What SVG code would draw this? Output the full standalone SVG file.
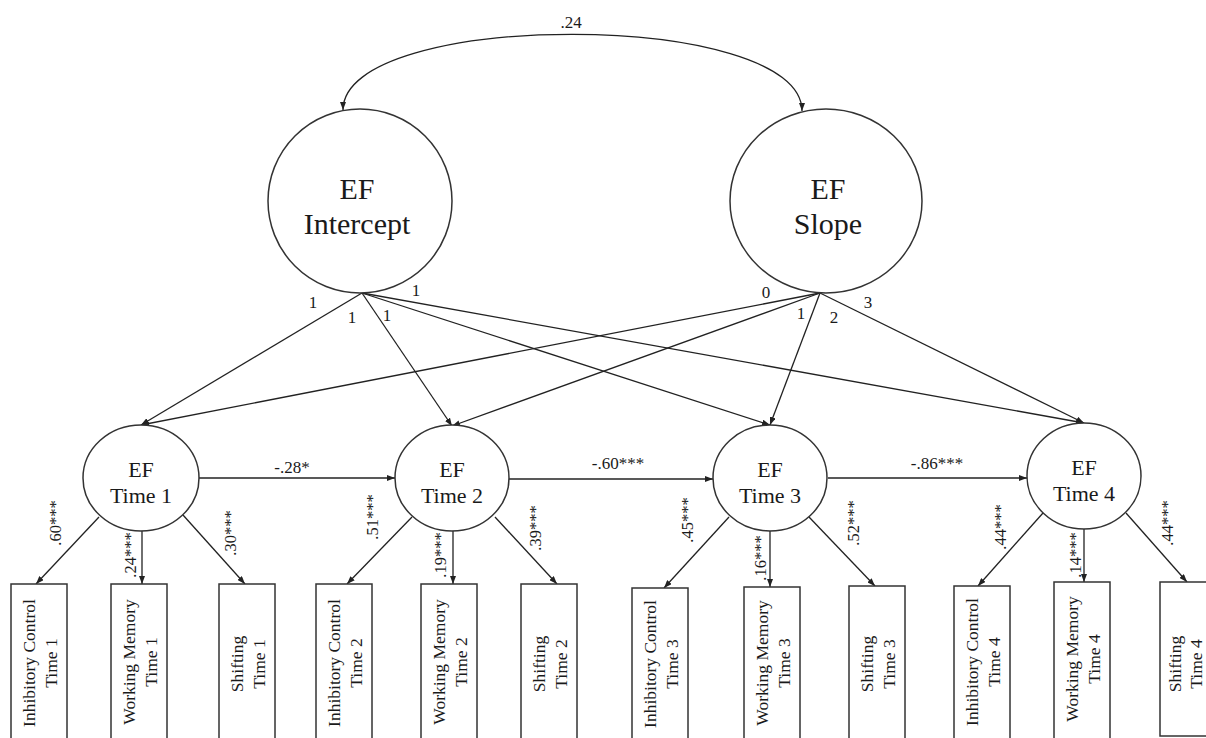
<svg xmlns="http://www.w3.org/2000/svg" width="1206" height="738" viewBox="0 0 1206 738">
<style>
.bg{fill:#fff}
.lat{fill:#fff;stroke:#333;stroke-width:1.5}
.box{fill:#fff;stroke:#333;stroke-width:1.5}
.c{fill:none;stroke:#222;stroke-width:1.3;marker-end:url(#ah)}
.t{font-family:"Liberation Serif","Times New Roman",serif;fill:#1a1a1a;text-anchor:middle}
.big{font-size:30px}
.mid{font-size:22px}
.lab{font-size:17px;dominant-baseline:central}
.ld{font-size:16.5px;dominant-baseline:central}
.bx{font-size:17.5px}
</style>
<defs>
<marker id="ah" markerUnits="userSpaceOnUse" markerWidth="8" markerHeight="6" refX="8" refY="3" orient="auto-start-reverse">
<path d="M0,0 L8,3 L0,6 z" fill="#222"/>
</marker>
</defs>
<rect class="bg" width="1206" height="738"/>

<g id="connectors">
<path class="c" d="M343,110 C343,9 802,9 802,111" style="marker-start:url(#ah)"/>
<line class="c" x1="362" y1="293" x2="141" y2="425"/>
<line class="c" x1="362" y1="293" x2="452" y2="426"/>
<line class="c" x1="362" y1="293" x2="770" y2="425"/>
<line class="c" x1="362" y1="293" x2="1084" y2="423"/>
<line class="c" x1="820" y1="293" x2="141" y2="425"/>
<line class="c" x1="820" y1="293" x2="452" y2="426"/>
<line class="c" x1="820" y1="293" x2="770" y2="425"/>
<line class="c" x1="820" y1="293" x2="1084" y2="423"/>
<line class="c" x1="199" y1="478" x2="395" y2="478"/>
<line class="c" x1="509" y1="479" x2="713" y2="479"/>
<line class="c" x1="828" y1="478" x2="1027" y2="478"/>
<line class="c" x1="99" y1="517" x2="36" y2="584"/>
<line class="c" x1="142" y1="531" x2="142" y2="584"/>
<line class="c" x1="183" y1="515" x2="245" y2="584"/>
<line class="c" x1="412" y1="517" x2="347" y2="584"/>
<line class="c" x1="453" y1="531" x2="453" y2="584"/>
<line class="c" x1="495" y1="517" x2="557" y2="584"/>
<line class="c" x1="729" y1="517" x2="664" y2="588"/>
<line class="c" x1="770" y1="531" x2="770" y2="587"/>
<line class="c" x1="809" y1="517" x2="875" y2="586"/>
<line class="c" x1="1043" y1="513" x2="978" y2="586"/>
<line class="c" x1="1084" y1="529" x2="1084" y2="582"/>
<line class="c" x1="1126" y1="513" x2="1187" y2="582"/>
<text class="t lab" x="571" y="22">.24</text>
<text class="t lab" x="313" y="302">1</text>
<text class="t lab" x="352" y="317">1</text>
<text class="t lab" x="387" y="315">1</text>
<text class="t lab" x="416" y="290">1</text>
<text class="t lab" x="766" y="292">0</text>
<text class="t lab" x="801" y="313">1</text>
<text class="t lab" x="834" y="317">2</text>
<text class="t lab" x="868" y="302">3</text>
<text class="t lab" x="292" y="467">-.28*</text>
<text class="t lab" x="618" y="463">-.60***</text>
<text class="t lab" x="937" y="463">-.86***</text>
<text class="t ld" transform="translate(55,523) rotate(-90)">.60***</text>
<text class="t ld" transform="translate(130,555) rotate(-90)">.24***</text>
<text class="t ld" transform="translate(230,533) rotate(-90)">.30***</text>
<text class="t ld" transform="translate(372,517) rotate(-90)">.51***</text>
<text class="t ld" transform="translate(440,555) rotate(-90)">.19***</text>
<text class="t ld" transform="translate(535,528) rotate(-90)">.39***</text>
<text class="t ld" transform="translate(687,520) rotate(-90)">.45***</text>
<text class="t ld" transform="translate(760,558) rotate(-90)">.16***</text>
<text class="t ld" transform="translate(853,523) rotate(-90)">.52***</text>
<text class="t ld" transform="translate(1000,527) rotate(-90)">.44***</text>
<text class="t ld" transform="translate(1075,555) rotate(-90)">.14***</text>
<text class="t ld" transform="translate(1167,523) rotate(-90)">.44***</text>
</g>

<g id="intercept">
<circle class="lat" cx="360" cy="201" r="92"/>
<text class="t big" x="357" y="199">EF</text>
<text class="t big" x="357" y="234">Intercept</text>
</g>
<g id="slope">
<ellipse class="lat" cx="826" cy="201" rx="96" ry="92"/>
<text class="t big" x="828" y="199">EF</text>
<text class="t big" x="828" y="234">Slope</text>
</g>

<g id="time1">
<ellipse class="lat" cx="141" cy="478" rx="58" ry="53"/>
<text class="t mid" x="141" y="477">EF</text>
<text class="t mid" x="141" y="503">Time 1</text>
</g>
<g id="time2">
<ellipse class="lat" cx="452" cy="478" rx="57" ry="53"/>
<text class="t mid" x="452" y="477">EF</text>
<text class="t mid" x="452" y="503">Time 2</text>
</g>
<g id="time3">
<ellipse class="lat" cx="770" cy="478" rx="57" ry="53"/>
<text class="t mid" x="770" y="477">EF</text>
<text class="t mid" x="770" y="503">Time 3</text>
</g>
<g id="time4">
<ellipse class="lat" cx="1084" cy="476" rx="57" ry="53"/>
<text class="t mid" x="1084" y="475">EF</text>
<text class="t mid" x="1084" y="501">Time 4</text>
</g>

<g id="ic1"><rect class="box" x="11" y="584" width="56" height="170"/>
<text class="t bx" transform="translate(39,663) rotate(-90)"><tspan x="0" y="-4">Inhibitory Control</tspan><tspan x="0" y="18">Time 1</tspan></text></g>
<g id="wm1"><rect class="box" x="111" y="584" width="56" height="170"/>
<text class="t bx" transform="translate(139,662) rotate(-90)"><tspan x="0" y="-4">Working Memory</tspan><tspan x="0" y="18">Time 1</tspan></text></g>
<g id="sh1"><rect class="box" x="219" y="584" width="56" height="170"/>
<text class="t bx" transform="translate(247,664) rotate(-90)"><tspan x="0" y="-4">Shifting</tspan><tspan x="0" y="18">Time 1</tspan></text></g>
<g id="ic2"><rect class="box" x="316" y="584" width="56" height="170"/>
<text class="t bx" transform="translate(344,663) rotate(-90)"><tspan x="0" y="-4">Inhibitory Control</tspan><tspan x="0" y="18">Time 2</tspan></text></g>
<g id="wm2"><rect class="box" x="421" y="584" width="56" height="170"/>
<text class="t bx" transform="translate(449,662) rotate(-90)"><tspan x="0" y="-4">Working Memory</tspan><tspan x="0" y="18">Time 2</tspan></text></g>
<g id="sh2"><rect class="box" x="521" y="584" width="56" height="170"/>
<text class="t bx" transform="translate(549,664) rotate(-90)"><tspan x="0" y="-4">Shifting</tspan><tspan x="0" y="18">Time 2</tspan></text></g>
<g id="ic3"><rect class="box" x="632" y="588" width="56" height="170"/>
<text class="t bx" transform="translate(660,664) rotate(-90)"><tspan x="0" y="-4">Inhibitory Control</tspan><tspan x="0" y="18">Time 3</tspan></text></g>
<g id="wm3"><rect class="box" x="744" y="587" width="56" height="170"/>
<text class="t bx" transform="translate(772,663) rotate(-90)"><tspan x="0" y="-4">Working Memory</tspan><tspan x="0" y="18">Time 3</tspan></text></g>
<g id="sh3"><rect class="box" x="849" y="586" width="56" height="170"/>
<text class="t bx" transform="translate(877,664) rotate(-90)"><tspan x="0" y="-4">Shifting</tspan><tspan x="0" y="18">Time 3</tspan></text></g>
<g id="ic4"><rect class="box" x="954" y="586" width="56" height="170"/>
<text class="t bx" transform="translate(982,662) rotate(-90)"><tspan x="0" y="-4">Inhibitory Control</tspan><tspan x="0" y="18">Time 4</tspan></text></g>
<g id="wm4"><rect class="box" x="1054" y="582" width="56" height="170"/>
<text class="t bx" transform="translate(1082,659) rotate(-90)"><tspan x="0" y="-4">Working Memory</tspan><tspan x="0" y="18">Time 4</tspan></text></g>
<g id="sh4"><rect class="box" x="1160" y="582" width="60" height="154"/>
<text class="t bx" transform="translate(1185,664) rotate(-90)"><tspan x="0" y="-4">Shifting</tspan><tspan x="0" y="17">Time 4</tspan></text></g>
</svg>
